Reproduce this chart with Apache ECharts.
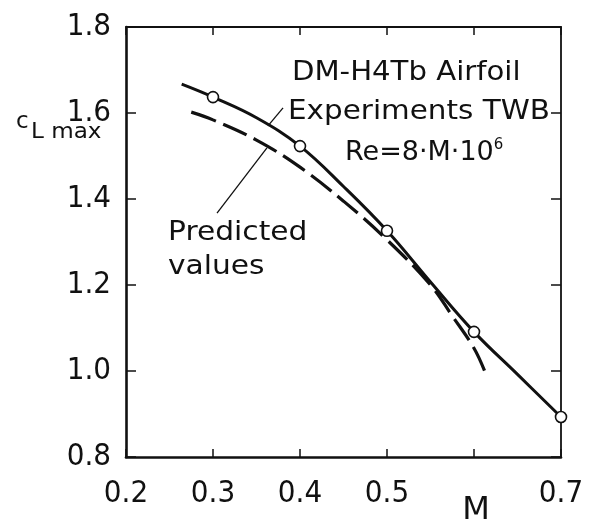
<!DOCTYPE html>
<html>
<head>
<meta charset="utf-8">
<style>
  html, body { margin: 0; padding: 0; background: #fff; }
  #chart { width: 605px; height: 530px; }
</style>
<script src="https://cdn.jsdelivr.net/npm/echarts@6/dist/echarts.min.js"></script>
</head>
<body>
<div id="chart"></div>
<script>
// Mach number ticks and labels (0.6 is left blank; the axis name sits below it)
const xTicks = [0.2, 0.3, 0.4, 0.5, 0.6, 0.7];
const xTickLabels = ['0.2', '0.3', '0.4', '0.5', '', '0.7'];
// cL,max ticks and labels
const yTicks = [0.8, 1.0, 1.2, 1.4, 1.6, 1.8];
const yTickLabels = ['0.8', '1.0', '1.2', '1.4', '1.6', '1.8'];

// Wind-tunnel measurements (TWB), circles
const expMach = [0.3, 0.4, 0.5, 0.6, 0.7];
const expCl   = [1.637, 1.523, 1.326, 1.091, 0.893];

// Faired curve through the measurements
const fitMach = [0.264, 0.3, 0.35, 0.4, 0.45, 0.5, 0.55, 0.6, 0.65, 0.7];
const fitCl   = [1.667, 1.637, 1.589, 1.523, 1.429, 1.326, 1.207, 1.091, 0.992, 0.893];

// Predicted values (dashed)
const predMach = [0.275, 0.3, 0.35, 0.4, 0.45, 0.5, 0.55, 0.575, 0.6, 0.6126];
const predCl   = [1.602, 1.584, 1.537, 1.474, 1.395, 1.305, 1.200, 1.128, 1.053, 0.998];

// Leader lines from the annotations to the curves
const leaderExpMach = [0.3632, 0.3805];
const leaderExpCl   = [1.570, 1.612];
const leaderPredMach = [0.3046, 0.362];
const leaderPredCl   = [1.367, 1.519];

const zip = (xs, ys) => xs.map((x, i) => [x, ys[i]]);

const INK = '#111';
const FONT = '"DejaVu Sans", "Liberation Sans", sans-serif';
const TICK_FONT = '"DejaVu Sans Condensed", "Liberation Sans Narrow", "DejaVu Sans", sans-serif';

const near = (a, b) => Math.abs(a - b) < 1e-6;
const labelFor = (ticks, labels) => (v) => {
  const i = ticks.findIndex(t => near(t, v));
  return i < 0 ? '' : labels[i];
};

const chart = echarts.init(document.getElementById('chart'), null, { renderer: 'canvas' });

const baseX = {
  type: 'value', min: 0.2, max: 0.7, interval: 0.1,
  splitLine: { show: false }
};
const baseY = {
  type: 'value', min: 0.8, max: 1.8, interval: 0.2,
  splitLine: { show: false }
};

// Annotation text helper: left-anchored, slightly widened lettering
const note = (text, x, y, size, sx) => ({
  type: 'text', x: x, y: y, scaleX: sx || 1,
  style: { text: text, font: size + 'px ' + FONT, fill: INK, verticalAlign: 'middle' }
});

chart.setOption({
  animation: false,
  backgroundColor: '#fff',
  grid: { left: 126, right: 44, top: 27, bottom: 73 },
  xAxis: [
    Object.assign({}, baseX, {
      position: 'bottom',
      axisLine: { show: true, onZero: false, lineStyle: { color: INK, width: 2.6 } },
      axisTick: { show: true, inside: true, length: 8, lineStyle: { color: INK, width: 1.5 } },
      axisLabel: {
        show: true, margin: 21, color: INK, fontSize: 31, fontFamily: TICK_FONT,
        formatter: labelFor(xTicks, xTickLabels)
      }
    }),
    Object.assign({}, baseX, {
      position: 'top',
      axisLine: { show: true, onZero: false, lineStyle: { color: INK, width: 1.8 } },
      axisTick: { show: true, inside: true, length: 8, lineStyle: { color: INK, width: 1.5 } },
      axisLabel: { show: false }
    })
  ],
  yAxis: [
    Object.assign({}, baseY, {
      position: 'left',
      axisLine: { show: true, onZero: false, lineStyle: { color: INK, width: 2.6 } },
      axisTick: { show: true, inside: true, length: 10, lineStyle: { color: INK, width: 1.5 } },
      axisLabel: {
        show: true, margin: 15, color: INK, fontSize: 31, fontFamily: TICK_FONT,
        verticalAlign: 'middle', lineHeight: 31, padding: [10, 0, 0, 0],
        formatter: labelFor(yTicks, yTickLabels)
      }
    }),
    Object.assign({}, baseY, {
      position: 'right',
      axisLine: { show: true, onZero: false, lineStyle: { color: INK, width: 1.8 } },
      axisTick: { show: true, inside: true, length: 10, lineStyle: { color: INK, width: 1.5 } },
      axisLabel: { show: false }
    })
  ],
  series: [
    {
      name: 'Experiments TWB (curve)', type: 'line', smooth: 0.4,
      data: zip(fitMach, fitCl), symbol: 'none', z: 3,
      lineStyle: { color: INK, width: 3 }
    },
    {
      name: 'Predicted values', type: 'line', smooth: 0.4,
      data: zip(predMach, predCl), symbol: 'none', z: 3,
      lineStyle: { color: INK, width: 3.2, type: [26, 8] }
    },
    {
      name: 'Experiments TWB', type: 'scatter',
      data: zip(expMach, expCl), symbol: 'circle', symbolSize: 11, z: 5,
      itemStyle: { color: '#fff', borderColor: INK, borderWidth: 1.6, opacity: 1 }
    },
    {
      type: 'line', data: zip(leaderExpMach, leaderExpCl), symbol: 'none', z: 2,
      lineStyle: { color: INK, width: 1.3 }
    },
    {
      type: 'line', data: zip(leaderPredMach, leaderPredCl), symbol: 'none', z: 2,
      lineStyle: { color: INK, width: 1.3 }
    }
  ],
  graphic: [
    note('DM-H4Tb Airfoil', 292, 73, 27, 1.08),
    note('Experiments TWB', 288, 112, 27, 1.09),
    {
      type: 'text', x: 345, y: 153,
      style: {
        text: '{b|Re=8·M·10}{s|6}',
        font: '27px ' + FONT, fill: INK, verticalAlign: 'middle',
        rich: {
          b: { fontSize: 27, fontFamily: FONT, color: INK, lineHeight: 31, verticalAlign: 'middle' },
          s: { fontSize: 15, fontFamily: FONT, color: INK, lineHeight: 17, verticalAlign: 'top' }
        }
      }
    },
    note('Predicted', 168, 233, 27, 1.1),
    note('values', 168, 267, 27, 1.1),
    note('c', 16, 122, 23, 1),
    note('L max', 31, 133, 21, 1.1),
    {
      type: 'text', x: 476, y: 511,
      style: { text: 'M', font: '32px ' + FONT, fill: INK, align: 'center', verticalAlign: 'middle' }
    }
  ]
});
</script>
</body>
</html>
